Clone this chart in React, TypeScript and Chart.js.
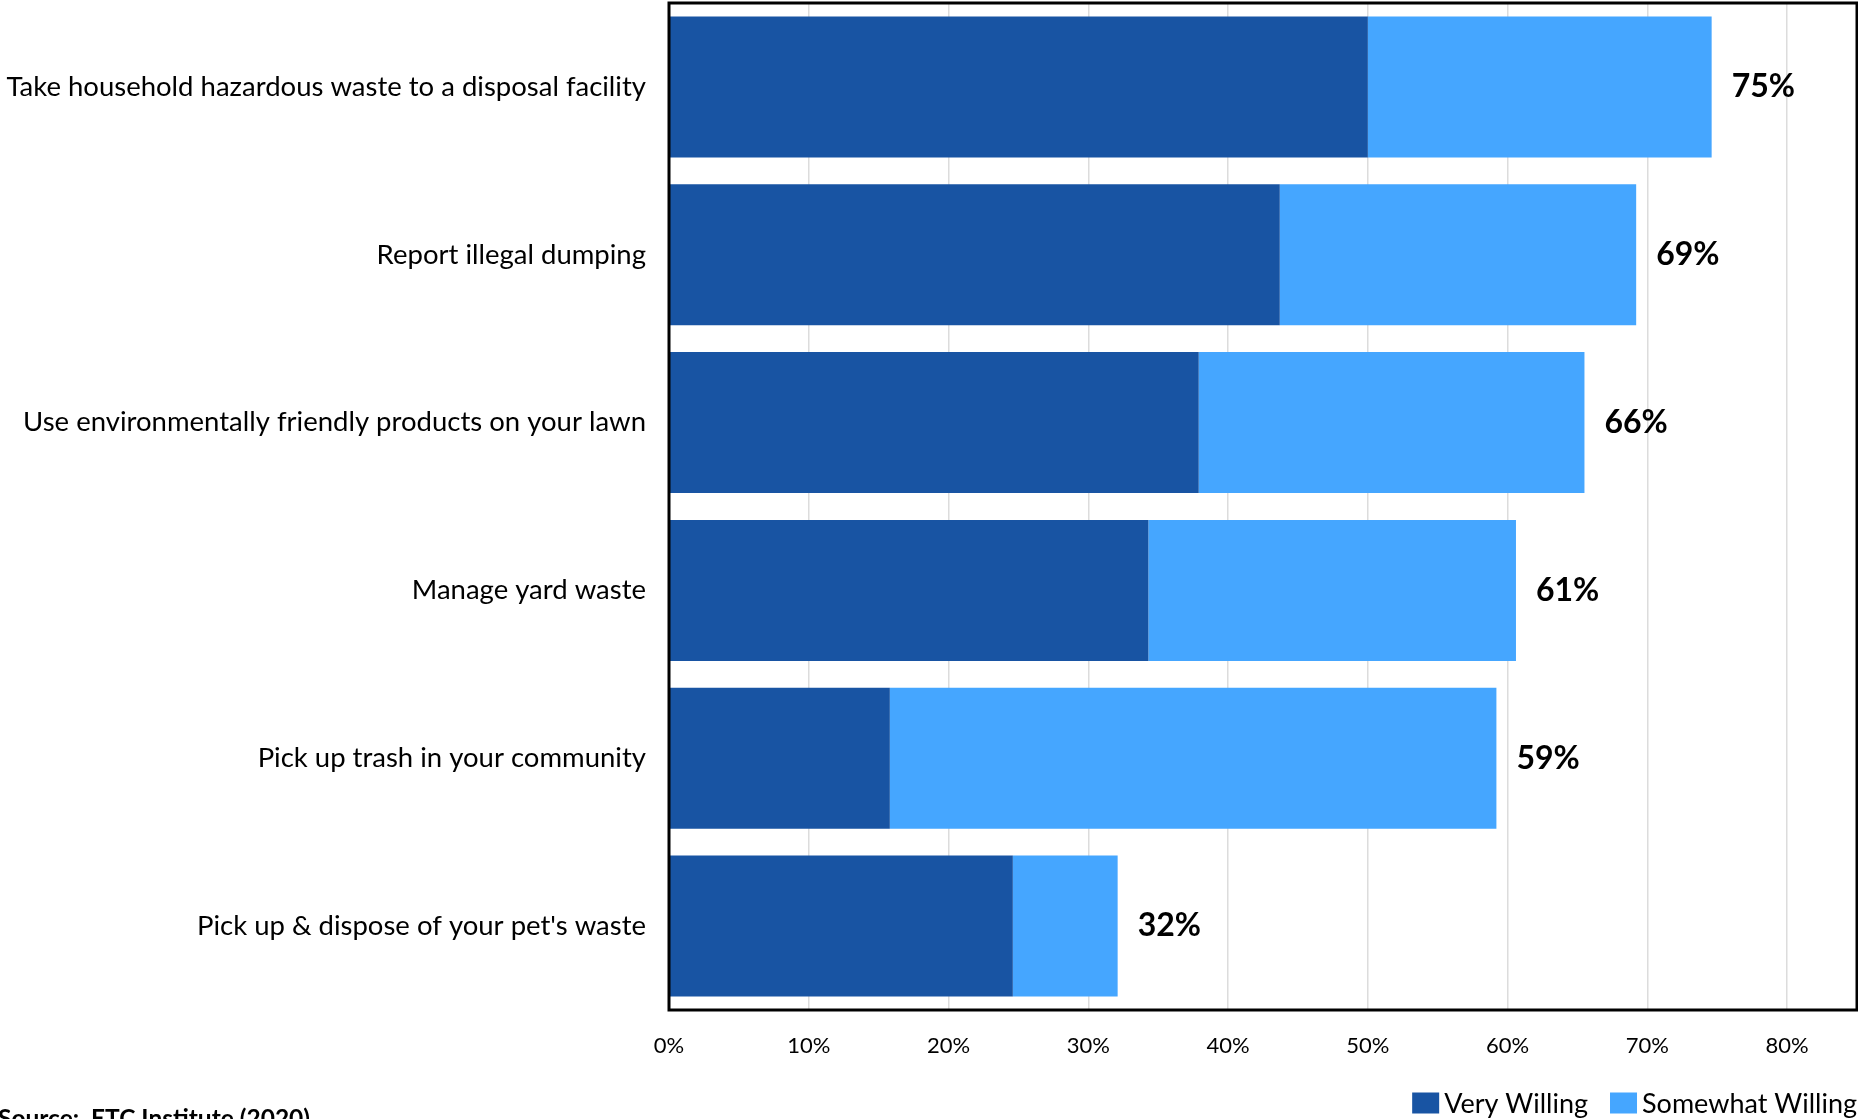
import { useEffect, useRef } from "react";
import { Chart, registerables } from "chart.js";

Chart.register(...registerables);

const categories = [
  "Take household hazardous waste to a disposal facility",
  "Report illegal dumping",
  "Use environmentally friendly products on your lawn",
  "Manage yard waste",
  "Pick up trash in your community",
  "Pick up & dispose of your pet's waste",
];
const veryWilling = [50.0, 43.7, 37.9, 34.3, 15.8, 24.6];
const somewhatWilling = [24.6, 25.5, 27.6, 26.3, 43.4, 7.5];
const totalLabels = ["75%", "69%", "66%", "61%", "59%", "32%"];
const xTicks = [0, 10, 20, 30, 40, 50, 60, 70, 80];
const seriesNames = ["Very Willing", "Somewhat Willing"];
const seriesColors = ["#1854A3", "#45A6FF"];
const sourceNote = "Source:  ETC Institute (2020)";

const FONT = "Lato, 'Open Sans', sans-serif";

export default function App() {
  const ref = useRef<HTMLCanvasElement | null>(null);

  useEffect(() => {
    if (!ref.current) return;

    const framePlugin = {
      id: "frameAndExtras",
      afterDatasetsDraw(chart: any) {
        const ctx = chart.ctx;
        const meta = chart.getDatasetMeta(1);
        ctx.save();
        ctx.fillStyle = "#000";
        ctx.font = `bold 32px ${FONT}`;
        ctx.textAlign = "left";
        ctx.textBaseline = "middle";
        meta.data.forEach((el: any, i: number) => {
          ctx.fillText(totalLabels[i], el.x + 20, el.y);
        });
        ctx.restore();
      },
      afterDraw(chart: any) {
        const ctx = chart.ctx;
        const a = chart.chartArea;
        ctx.save();
        ctx.strokeStyle = "#000";
        ctx.lineWidth = 3;
        ctx.strokeRect(a.left, a.top, a.right - a.left, a.bottom - a.top);

        // legend
        ctx.font = `27px ${FONT}`;
        ctx.textBaseline = "middle";
        ctx.textAlign = "left";
        const boxW = 27;
        const boxH = 21;
        const gapBoxText = 5;
        const gapItems = 22;
        const cy = 1103;
        const widths = seriesNames.map((n) => boxW + gapBoxText + ctx.measureText(n).width);
        const total = widths.reduce((s, w) => s + w, 0) + gapItems * (widths.length - 1);
        let x = 1857 - total;
        seriesNames.forEach((n, i) => {
          ctx.fillStyle = seriesColors[i];
          ctx.fillRect(x, cy - boxH / 2, boxW, boxH);
          ctx.fillStyle = "#000";
          ctx.fillText(n, x + boxW + gapBoxText, cy + 1);
          x += widths[i] + gapItems;
        });

        // source
        ctx.font = `bold 24.5px ${FONT}`;
        ctx.textBaseline = "top";
        ctx.fillText(sourceNote, -2, 1107);
        ctx.restore();
      },
    };

    const chart = new Chart(ref.current, {
      type: "bar",
      data: {
        labels: categories,
        datasets: seriesNames.map((name, i) => ({
          label: name,
          data: i === 0 ? veryWilling : somewhatWilling,
          backgroundColor: seriesColors[i],
          borderWidth: 0,
          barPercentage: 0.84,
          categoryPercentage: 1,
        })),
      },
      options: {
        indexAxis: "y",
        responsive: false,
        animation: false,
        devicePixelRatio: 1,
        layout: { padding: { left: 0, top: 3, right: 1, bottom: 0 } },
        plugins: {
          legend: { display: false },
          title: { display: false },
          tooltip: { enabled: false },
        },
        scales: {
          x: {
            stacked: true,
            min: 0,
            max: 85,
            afterBuildTicks: (scale: any) => {
              scale.ticks = xTicks.map((v) => ({ value: v }));
            },
            afterFit: (scale: any) => {
              scale.height = 109;
              scale.paddingLeft = 0;
              scale.paddingRight = 0;
            },
            grid: { color: "#dcdcdc", lineWidth: 1.5, drawTicks: false },
            border: { display: false },
            ticks: {
              padding: 23,
              color: "#000",
              font: { family: FONT, size: 22 },
              callback: (v: any) => `${v}%`,
              maxRotation: 0,
              autoSkip: false,
            },
          },
          y: {
            stacked: true,
            afterFit: (scale: any) => {
              scale.width = 669;
              scale.paddingTop = 0;
              scale.paddingBottom = 0;
            },
            grid: { display: false, drawTicks: false },
            border: { display: false },
            ticks: {
              padding: 23,
              color: "#000",
              font: { family: FONT, size: 27.5 },
              autoSkip: false,
            },
          },
        },
      },
      plugins: [framePlugin],
    });

    return () => chart.destroy();
  }, []);

  return (
    <div style={{ position: "fixed", left: 0, top: 0, width: 1858, height: 1119, background: "#fff" }}>
      <canvas ref={ref} width={1858} height={1119} style={{ display: "block" }} />
    </div>
  );
}
